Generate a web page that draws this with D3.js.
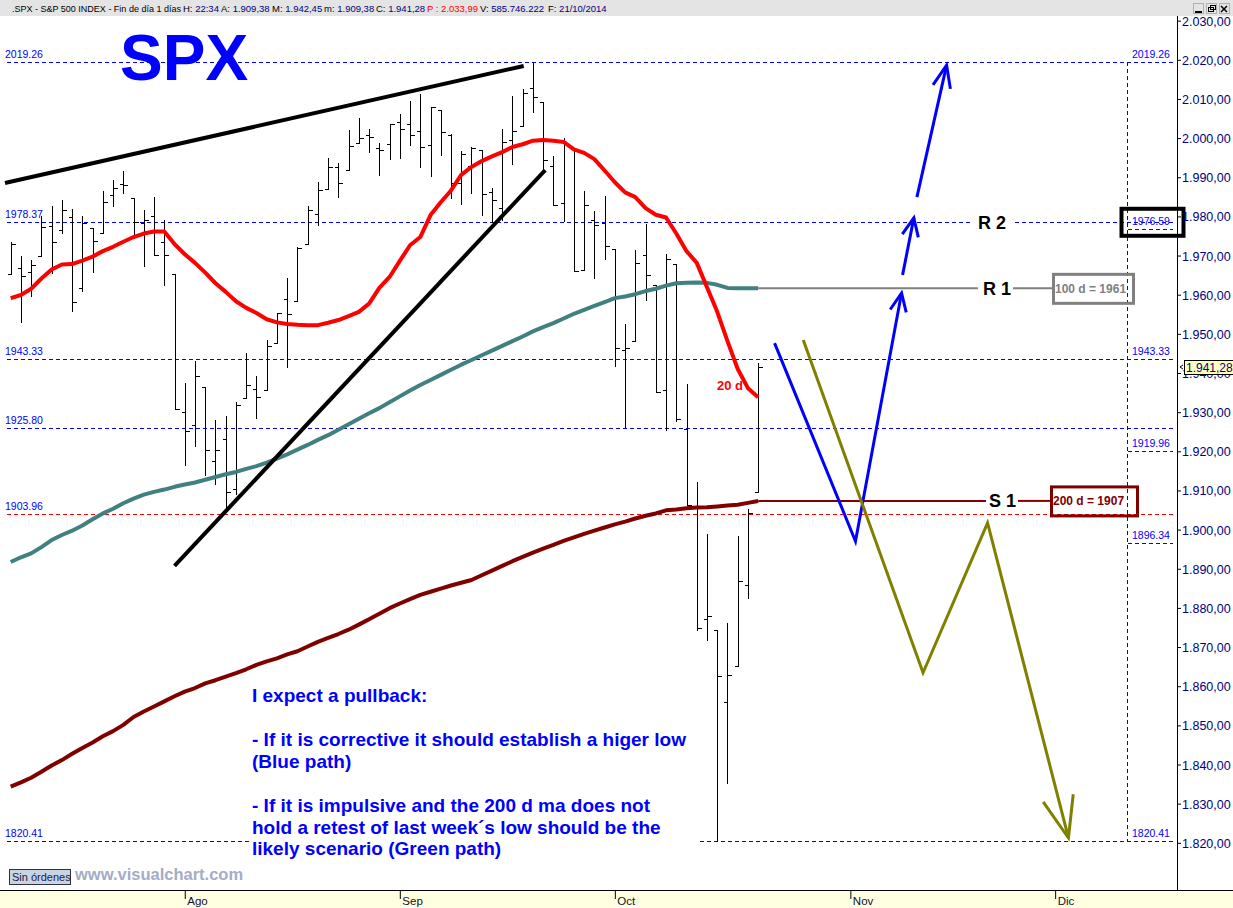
<!DOCTYPE html>
<html><head><meta charset="utf-8">
<script src="https://cdn.jsdelivr.net/npm/d3@7"></script>
<style>
html,body{margin:0;padding:0;background:#fff;overflow:hidden}
svg{display:block;font-family:"Liberation Sans",Arial,sans-serif}
</style></head><body>
<svg id="c" width="1233" height="908"></svg>
<script>
// ---------------- DATA ----------------
const dates = [
"2014-07-09","2014-07-10","2014-07-11","2014-07-14","2014-07-15","2014-07-16","2014-07-17","2014-07-18","2014-07-21","2014-07-22","2014-07-23","2014-07-24","2014-07-25","2014-07-28","2014-07-29","2014-07-30","2014-07-31",
"2014-08-01","2014-08-04","2014-08-05","2014-08-06","2014-08-07","2014-08-08","2014-08-11","2014-08-12","2014-08-13","2014-08-14","2014-08-15","2014-08-18","2014-08-19","2014-08-20","2014-08-21","2014-08-22","2014-08-25","2014-08-26","2014-08-27","2014-08-28","2014-08-29",
"2014-09-02","2014-09-03","2014-09-04","2014-09-05","2014-09-08","2014-09-09","2014-09-10","2014-09-11","2014-09-12","2014-09-15","2014-09-16","2014-09-17","2014-09-18","2014-09-19","2014-09-22","2014-09-23","2014-09-24","2014-09-25","2014-09-26","2014-09-29","2014-09-30",
"2014-10-01","2014-10-02","2014-10-03","2014-10-06","2014-10-07","2014-10-08","2014-10-09","2014-10-10","2014-10-13","2014-10-14","2014-10-15","2014-10-16","2014-10-17","2014-10-20","2014-10-21"];
const open = [1965.10,1966.67,1965.76,1969.86,1977.36,1976.35,1979.75,1961.54,1976.93,1975.65,1985.32,1988.07,1984.60,1978.25,1980.03,1973.21,1965.14,
1929.80,1926.62,1936.34,1917.29,1923.03,1910.35,1933.43,1935.73,1935.60,1947.41,1958.87,1958.36,1972.73,1980.46,1986.82,1992.60,1991.74,1998.59,2000.54,1997.42,1998.45,
2004.07,2003.57,2001.67,1998.00,2007.17,2000.73,1988.41,1992.85,1996.74,1986.04,1981.93,1999.30,2003.07,2012.74,2009.08,1992.78,1983.34,1997.32,1966.22,1978.96,1978.21,
1971.44,1945.83,1948.12,1970.01,1962.36,1935.55,1967.68,1925.63,1905.65,1877.11,1874.18,1855.95,1864.91,1885.62,1909.38];
const high = [1973.35,1969.84,1968.67,1979.85,1982.52,1983.94,1981.80,1979.91,1976.93,1986.24,1989.23,1991.39,1984.60,1981.52,1984.85,1978.90,1965.14,
1937.35,1942.92,1936.34,1927.91,1928.89,1932.38,1944.90,1939.20,1948.41,1955.23,1964.04,1971.99,1982.57,1988.57,1994.76,1993.54,2001.95,2005.04,2002.14,1998.55,2003.38,
2006.12,2009.28,2011.17,2007.71,2007.17,2001.01,1996.66,1997.65,1996.74,1987.18,2002.28,2010.74,2012.34,2019.26,2009.08,1995.41,1999.79,1997.32,1986.37,1981.28,1985.17,
1971.44,1952.32,1971.19,1977.84,1962.36,1970.36,1967.68,1936.98,1912.09,1898.71,1874.18,1876.01,1898.16,1905.03,1942.45];
const low = [1965.10,1952.86,1959.63,1969.86,1965.34,1975.67,1955.59,1960.82,1965.77,1975.65,1982.44,1985.79,1974.37,1967.31,1969.95,1962.42,1930.67,
1916.37,1921.20,1913.77,1911.45,1904.78,1909.01,1933.43,1928.29,1935.60,1947.41,1941.50,1958.36,1972.73,1977.68,1986.82,1984.76,1991.74,1998.59,1996.20,1990.52,1994.65,
1994.85,1998.14,1992.44,1990.10,1995.60,1984.61,1982.99,1985.93,1980.26,1978.48,1979.06,1993.29,2003.07,2006.59,1991.01,1982.77,1978.63,1965.99,1966.22,1964.04,1968.96,
1941.72,1926.03,1948.12,1958.43,1935.10,1925.25,1927.56,1906.05,1874.14,1871.79,1820.41,1835.02,1864.91,1882.30,1909.38];
const close = [1972.83,1964.68,1967.57,1977.10,1973.28,1981.57,1958.12,1978.22,1973.63,1983.53,1987.01,1987.98,1978.34,1978.91,1969.95,1970.07,1930.67,
1925.15,1938.99,1920.21,1920.24,1909.57,1931.59,1936.92,1933.75,1946.72,1955.18,1955.06,1971.74,1981.60,1986.51,1992.37,1988.40,1997.92,2000.02,2000.12,1996.74,2003.37,
2002.28,2000.72,1997.65,2007.71,2001.54,1988.44,1995.69,1997.45,1985.54,1984.13,1998.98,2001.57,2011.36,2010.40,1994.29,1982.77,1998.30,1965.99,1982.85,1977.80,1972.29,
1946.16,1946.17,1967.90,1964.82,1935.10,1968.89,1928.21,1906.13,1874.74,1877.70,1862.49,1862.76,1886.76,1904.01,1941.28];
const ma20 = [1959.0,1959.8,1961.4,1964.0,1966.3,1967.6,1967.7,1968.6,1969.6,1971.0,1972.1,1973.4,1974.6,1975.5,1976.0,1976.0,1972.8,
1970.2,1968.0,1965.5,1962.8,1960.6,1958.2,1956.5,1955.2,1953.6,1952.8,1952.4,1952.2,1952.1,1952.1,1952.7,1953.4,1954.4,1955.5,1957.6,1961.6,1964.4,
1968.5,1972.5,1974.6,1980.2,1983.5,1986.5,1990.5,1992.5,1994.0,1995.2,1996.3,1997.6,1998.3,1999.2,1999.4,1999.2,1998.9,1997.0,1996.1,1994.5,1991.6,
1988.6,1986.0,1984.8,1982.0,1980.3,1979.6,1975.5,1971.0,1968.0,1961.8,1955.5,1948.0,1940.9,1936.0,1933.7];
const ma100 = [1891.6,1892.8,1893.8,1895.4,1897.2,1898.5,1899.6,1900.9,1902.5,1904.0,1905.2,1906.6,1907.8,1908.8,1909.5,1910.1,1910.8,
1911.4,1911.9,1912.6,1913.3,1914.0,1914.6,1915.4,1916.1,1917.0,1918.0,1919.1,1920.3,1921.5,1922.8,1924.0,1925.4,1926.8,1928.2,1929.6,1930.9,1932.4,
1933.9,1935.4,1936.8,1938.1,1939.4,1940.7,1942.0,1943.2,1944.4,1945.6,1946.8,1948.0,1949.2,1950.5,1951.6,1952.6,1953.8,1955.0,1956.0,1957.0,1958.0,
1959.0,1959.4,1960.0,1960.8,1961.4,1962.2,1962.8,1962.9,1963.0,1962.9,1962.4,1961.6,1961.5,1961.5,1961.5];
const ma200 = [1834.2,1835.3,1836.5,1838.0,1839.6,1841.0,1842.6,1844.1,1845.5,1847.1,1848.4,1850.0,1852.0,1853.4,1854.7,1856.0,1857.3,
1858.5,1859.4,1860.6,1861.4,1862.3,1863.2,1864.2,1865.3,1866.2,1867.0,1868.0,1868.8,1870.0,1871.2,1872.2,1873.2,1874.3,1875.6,1877.0,1878.4,1879.8,
1881.0,1882.1,1883.2,1884.0,1884.8,1885.6,1886.3,1887.0,1888.2,1889.4,1890.6,1891.8,1892.9,1894.0,1895.0,1896.0,1897.0,1897.9,1898.8,1899.6,1900.4,
1901.2,1901.9,1902.7,1903.4,1904.0,1904.8,1905.0,1905.3,1905.5,1905.6,1905.8,1906.0,1906.2,1906.7,1907.2];

const monthTicks = [17, 38, 59, 82, 102];          // bar index of first session of each month
const monthLabels = ["Ago", "Sep", "Oct", "Nov", "Dic"];
const yTicks = d3.range(1820, 2031, 10);
const levelsFull = [2019.26, 1978.37, 1943.33, 1925.80, 1820.41];
const levelRed = 1903.96;
const levelsShortRight = [1976.59, 1919.96, 1896.34];
const rightLabels = [2019.26, 1976.59, 1943.33, 1919.96, 1896.34, 1820.41];
const leftLabels = [2019.26, 1978.37, 1943.33, 1925.80, 1903.96, 1820.41];
const trendUpper = [[-0.56, 1988.4], [50.1, 2018.3]];
const trendLower = [[16.0, 1890.6], [52.2, 1991.7]];
const bluePath1 = [[74.6, 1947.5], [82.5, 1896.9], [87.0, 1960.3]];
const bluePath2 = [[87.1, 1964.9], [88.2, 1979.5]];
const bluePath3 = [[88.5, 1984.8], [91.4, 2018.5]];
const olivePath = [[77.4, 1948.3], [89.1, 1863.3], [95.4, 1901.6], [103.3, 1821.1]];
const lastClose = 1941.28;
const ma100Label = "100 d = 1961", ma200Label = "200 d = 1907";
const headerTitle = ".SPX - S&P 500 INDEX - Fin de día 1 días";
const headerFields = [["H:", "22:34"], ["A:", "1.909,38"], ["M:", "1.942,45"], ["m:", "1.909,38"], ["C:", "1.941,28"],
  ["P :", "2.033,99"], ["V:", "585.746.222"], ["F:", "21/10/2014"]];

// ---------------- SCALES ----------------
const svg = d3.select("#c");
const W = 1233, H = 908, plotRight = 1177, plotBottom = 890, headerH = 16;
const x = d3.scaleLinear().domain([0, 73]).range([10.7, 758.2]);
const y = d3.scaleLinear().domain([1820, 2020]).range([842.3, 59.3]);
const loc = d3.formatLocale({decimal: ",", thousands: ".", grouping: [3], currency: ["", ""]});
const fmt = loc.format(",.2f");
const px = v => Math.round(v) + 0.5;

// backgrounds
svg.append("rect").attr("x", 0).attr("y", 0).attr("width", W).attr("height", H).attr("fill", "#fff");
svg.append("rect").attr("x", 0).attr("y", plotBottom).attr("width", W).attr("height", H - plotBottom).attr("fill", "#FFFFE1");

// ---------------- LEVEL LINES ----------------
const lv = svg.append("g").attr("shape-rendering", "crispEdges");
levelsFull.forEach(v => lv.append("line").attr("x1", 7).attr("x2", 1173).attr("y1", px(y(v))).attr("y2", px(y(v)))
  .attr("stroke", "#0000FF").attr("stroke-dasharray", "4,3"));
lv.append("line").attr("x1", 7).attr("x2", 1173).attr("y1", px(y(levelRed))).attr("y2", px(y(levelRed)))
  .attr("stroke", "#FF0000").attr("stroke-dasharray", "4,3");
levelsShortRight.forEach(v => lv.append("line").attr("x1", 1128).attr("x2", 1173).attr("y1", px(y(v))).attr("y2", px(y(v)))
  .attr("stroke", "#0000FF").attr("stroke-dasharray", "4,3"));
lv.append("line").attr("x1", 1127.5).attr("x2", 1127.5).attr("y1", y(2019.26)).attr("y2", y(1820.41))
  .attr("stroke", "#0000FF").attr("stroke-dasharray", "4,3");
leftLabels.forEach(v => svg.append("text").attr("x", 5).attr("y", Math.round(y(v)) - 4).text(v.toFixed(2))
  .attr("font-size", "10.5px").attr("fill", "#0000FF"));
rightLabels.forEach(v => svg.append("text").attr("x", 1132).attr("y", Math.round(y(v)) - 4).text(v.toFixed(2))
  .attr("font-size", "10.5px").attr("fill", "#0000FF"));

// ---------------- OHLC BARS ----------------
const bars = svg.append("g").attr("stroke", "#000").attr("stroke-width", 1).attr("shape-rendering", "crispEdges");
dates.forEach((d, i) => {
  const cx = px(x(i));
  bars.append("line").attr("x1", cx).attr("x2", cx).attr("y1", Math.round(y(high[i]))).attr("y2", Math.round(y(low[i])) + 1);
  bars.append("line").attr("x1", cx - 4).attr("x2", cx).attr("y1", px(y(open[i]))).attr("y2", px(y(open[i])));
  bars.append("line").attr("x1", cx).attr("x2", cx + 4).attr("y1", px(y(close[i]))).attr("y2", px(y(close[i])));
});

// ---------------- MOVING AVERAGES ----------------
const maLine = d3.line().x((d, i) => x(i)).y(d => y(d));
svg.append("path").attr("d", maLine(ma200)).attr("fill", "none").attr("stroke", "#800000").attr("stroke-width", 4).attr("stroke-linejoin", "round");
svg.append("path").attr("d", maLine(ma100)).attr("fill", "none").attr("stroke", "#408080").attr("stroke-width", 4).attr("stroke-linejoin", "round");
svg.append("path").attr("d", maLine(ma20)).attr("fill", "none").attr("stroke", "#FF0000").attr("stroke-width", 4).attr("stroke-linejoin", "round");
svg.append("text").attr("x", 717).attr("y", 390).text("20 d").attr("font-size", "13px").attr("font-weight", "bold").attr("fill", "#FF0000");

// ---------------- TREND LINES ----------------
const pl = d3.line().x(d => x(d[0])).y(d => y(d[1]));
[trendUpper, trendLower].forEach(t => svg.append("path").attr("d", pl(t)).attr("fill", "none").attr("stroke", "#000").attr("stroke-width", 4));

// ---------------- R / S levels ----------------
const last = dates.length - 1;
function levelLine(v, color, label, boxX1, boxX2, boxText, gap1, gap2, textX) {
  const yy = y(v);
  svg.append("line").attr("x1", x(last)).attr("x2", gap1).attr("y1", yy).attr("y2", yy).attr("stroke", color).attr("stroke-width", 2);
  svg.append("line").attr("x1", gap2).attr("x2", boxX1).attr("y1", yy).attr("y2", yy).attr("stroke", color).attr("stroke-width", 2);
  svg.append("text").attr("x", textX).attr("y", yy + 6.5).text(label).attr("font-size", "18px").attr("font-weight", "bold").attr("fill", "#000");
  svg.append("rect").attr("x", boxX1 + 1.5).attr("y", yy - 14).attr("width", boxX2 - boxX1 - 3).attr("height", 29)
    .attr("fill", "none").attr("stroke", color).attr("stroke-width", 3);
  svg.append("text").attr("x", boxX1 + 3).attr("y", yy + 4.5).text(boxText).attr("font-size", "12px").attr("font-weight", "bold").attr("fill", color);
}
levelLine(ma100[last], "#808080", "R 1", 1052, 1135, ma100Label, 978, 1013, 983);
levelLine(ma200[last], "#800000", "S 1", 1050, 1139, ma200Label, 986, 1018, 989);
// R2
svg.append("rect").attr("x", 973).attr("y", y(1978.37) - 10).attr("width", 40).attr("height", 20).attr("fill", "#fff");
svg.append("text").attr("x", 978).attr("y", y(1978.37) + 6.5).text("R 2").attr("font-size", "18px").attr("font-weight", "bold").attr("fill", "#000");
svg.append("rect").attr("x", 1121.5).attr("y", y(1978.37) - 13.5).attr("width", 62).attr("height", 27)
  .attr("fill", "none").attr("stroke", "#000").attr("stroke-width", 4);

// ---------------- SCENARIO PATHS ----------------
function arrow(pts, color, w, len, ang, join) {
  svg.append("path").attr("d", pl(pts)).attr("fill", "none").attr("stroke", color).attr("stroke-width", w).attr("stroke-linejoin", join);
  const n = pts.length;
  const x2 = x(pts[n - 1][0]), y2 = y(pts[n - 1][1]), x1 = x(pts[n - 2][0]), y1 = y(pts[n - 2][1]);
  const a = Math.atan2(y1 - y2, x1 - x2);
  const w1 = [x2 + len * Math.cos(a + ang), y2 + len * Math.sin(a + ang)];
  const w2 = [x2 + len * Math.cos(a - ang), y2 + len * Math.sin(a - ang)];
  svg.append("path").attr("d", `M${w1}L${x2},${y2}L${w2}`).attr("fill", "none").attr("stroke", color).attr("stroke-width", w).attr("stroke-linejoin", "miter");
}
arrow(bluePath1, "#0000FF", 3, 20, 0.42, "miter");
arrow(bluePath2, "#0000FF", 3, 20, 0.42, "miter");
arrow(bluePath3, "#0000FF", 3, 24, 0.38, "miter");
arrow(olivePath, "#808000", 3, 44, 0.36, "miter");

// ---------------- TEXT ----------------
svg.append("text").attr("x", 120).attr("y", 80).text("SPX").attr("font-size", "64px").attr("font-weight", "bold").attr("fill", "#0000FF");
svg.append("rect").attr("x", 250).attr("y", 682).attr("width", 447).attr("height", 178).attr("fill", "#fff");
const note = [["I expect a pullback:", 702], ["- If it is corrective it should establish a higer low", 746], ["(Blue path)", 768],
  ["- If it is impulsive and the 200 d ma does not", 812], ["hold a retest of last week\u00b4s low should be the", 834], ["likely scenario (Green path)", 855]];
note.forEach(([t, yy]) => svg.append("text").attr("x", 252).attr("y", yy).text(t).attr("font-size", "19px").attr("font-weight", "bold").attr("fill", "#0000FF"));

svg.append("rect").attr("x", 9.5).attr("y", 869.5).attr("width", 61).attr("height", 15).attr("fill", "#C8D4E4").attr("stroke", "#303040");
svg.append("text").attr("x", 12).attr("y", 881).text("Sin órdenes").attr("font-size", "11px").attr("fill", "#202040");
svg.append("text").attr("x", 75).attr("y", 880).text("www.visualchart.com").attr("font-size", "16.5px").attr("font-weight", "bold").attr("fill", "#A4ACC8");

// ---------------- AXES ----------------
const ya = svg.append("g").attr("transform", `translate(${plotRight},0.5)`)
  .call(d3.axisRight(y).tickValues(yTicks).tickSize(4).tickPadding(1).tickFormat(fmt));
ya.select(".domain").remove();
ya.selectAll("text").attr("font-size", "12.5px").attr("font-family", "Liberation Sans, Arial, sans-serif").attr("fill", "#000080").attr("dy", "0.36em");
ya.selectAll("line").attr("stroke", "#000");
svg.append("line").attr("x1", plotRight + 0.5).attr("x2", plotRight + 0.5).attr("y1", headerH).attr("y2", plotBottom).attr("stroke", "#000");

const xa = svg.append("g").attr("transform", `translate(0,${plotBottom})`)
  .call(d3.axisBottom(x).tickValues(monthTicks).tickSize(9).tickPadding(0).tickFormat((d, i) => monthLabels[i]));
xa.select(".domain").remove();
xa.selectAll("line").attr("stroke", "#000");
xa.selectAll("text").attr("text-anchor", "start").attr("x", 2).attr("y", 15).attr("dy", null).attr("font-size", "11.5px")
  .attr("font-family", "Liberation Sans, Arial, sans-serif").attr("fill", "#101030");
svg.append("line").attr("x1", 0).attr("x2", W).attr("y1", plotBottom + 0.5).attr("y2", plotBottom + 0.5).attr("stroke", "#000");

// last price marker
const yl = y(lastClose);
svg.append("rect").attr("x", 1184.5).attr("y", Math.round(yl) - 6.5).attr("width", 52).attr("height", 14).attr("fill", "#FFFFC0").attr("stroke", "#000");
svg.append("text").attr("x", 1186).attr("y", Math.round(yl) + 5).text(fmt(lastClose)).attr("font-size", "12px").attr("fill", "#000080");
svg.append("path").attr("d", `M1183,${Math.round(yl) - 2}L1180,${Math.round(yl)}L1183,${Math.round(yl) + 2}`).attr("fill", "none").attr("stroke", "#000");

// ---------------- HEADER ----------------
svg.append("rect").attr("x", 0).attr("y", 0).attr("width", W).attr("height", headerH).attr("fill", "#E4E4E4");
svg.append("text").attr("x", 12).attr("y", 12).text(headerTitle).attr("font-size", "9px").attr("fill", "#000");
const hdrX = [183, 221, 272, 324, 376, 427, 480, 548];
headerFields.forEach(([lab, val], i) => {
  const isP = lab === "P :";
  const t = svg.append("text").attr("x", hdrX[i]).attr("y", 12).attr("font-size", "9.5px");
  t.append("tspan").text(lab + " ").attr("fill", isP ? "#FF0000" : "#000");
  t.append("tspan").text(val).attr("fill", isP ? "#FF0000" : "#000080");
});
// window buttons
const btn = svg.append("g").attr("shape-rendering", "crispEdges");
[1193, 1206, 1219].forEach(bx => btn.append("rect").attr("x", bx + 0.5).attr("y", 3.5).attr("width", 10).attr("height", 10).attr("fill", "#E4E4E4").attr("stroke", "#B0B0B0"));
btn.append("line").attr("x1", 1195).attr("x2", 1202).attr("y1", 11.5).attr("y2", 11.5).attr("stroke", "#000").attr("stroke-width", 2);
btn.append("rect").attr("x", 1208.5).attr("y", 7.5).attr("width", 5).attr("height", 4).attr("fill", "none").attr("stroke", "#000");
btn.append("rect").attr("x", 1210.5).attr("y", 5.5).attr("width", 5).attr("height", 4).attr("fill", "none").attr("stroke", "#000");
svg.append("path").attr("d", "M1221,6L1227,12M1227,6L1221,12").attr("stroke", "#000").attr("stroke-width", 1.5);
</script>
</body></html>
